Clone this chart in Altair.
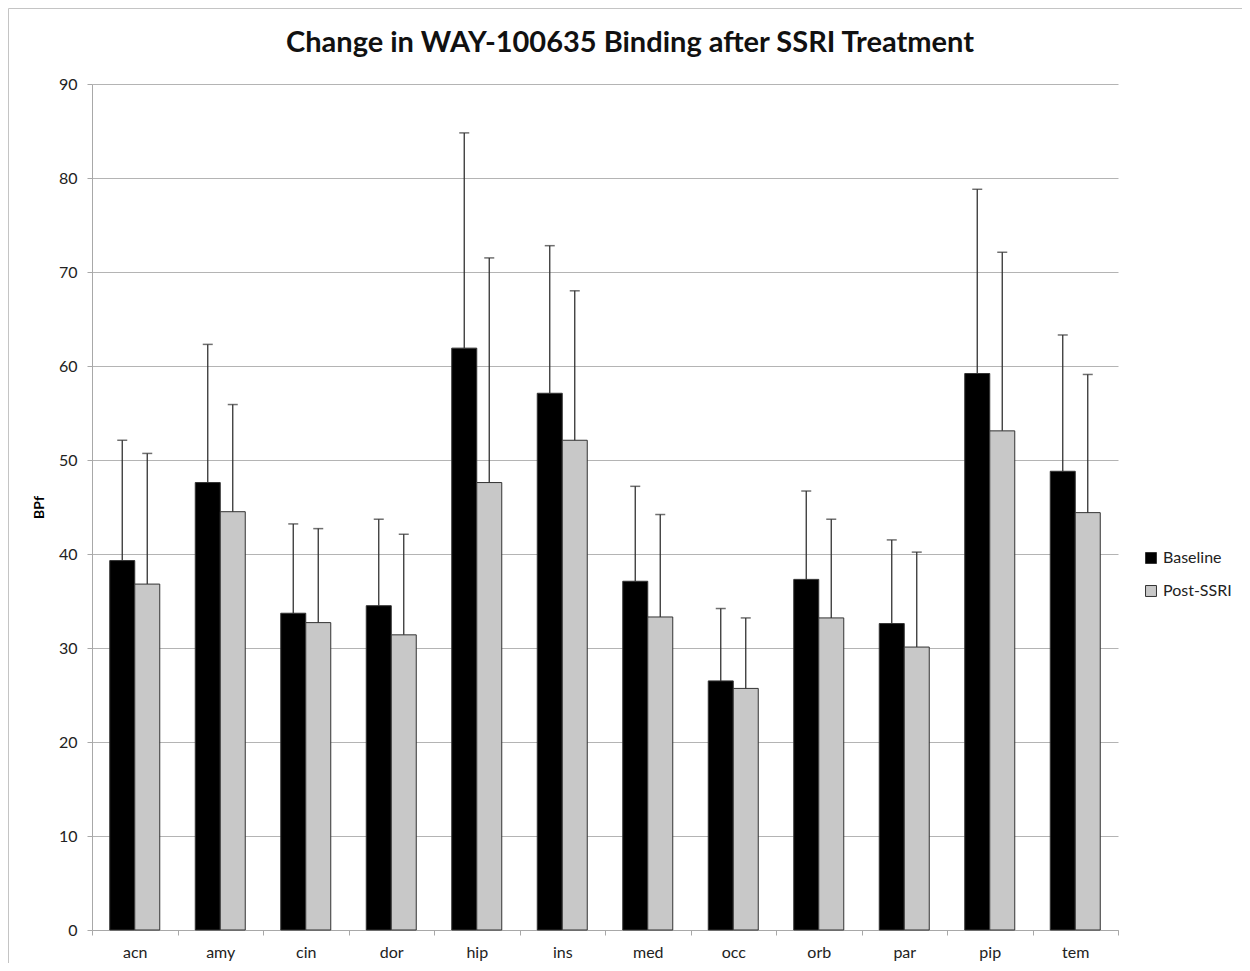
import altair as alt
import pandas as pd

regions = ["acn", "amy", "cin", "dor", "hip", "ins", "med", "occ", "orb", "par", "pip", "tem"]
groups = ["Baseline", "Post-SSRI"]
baseline = [39.3, 47.6, 33.7, 34.5, 61.9, 57.1, 37.1, 26.5, 37.3, 32.6, 59.2, 48.8]
baseline_sd = [12.8, 14.7, 9.5, 9.2, 22.9, 15.7, 10.1, 7.7, 9.4, 8.9, 19.6, 14.5]
post = [36.8, 44.5, 32.7, 31.4, 47.6, 52.1, 33.3, 25.7, 33.2, 30.1, 53.1, 44.4]
post_sd = [13.9, 11.4, 10.0, 10.7, 23.9, 15.9, 10.9, 7.5, 10.5, 10.1, 19.0, 14.7]
y_ticks = [0, 10, 20, 30, 40, 50, 60, 70, 80, 90]

rows = []
for i, r in enumerate(regions):
    rows.append({"region": r, "group": "Baseline", "value": baseline[i], "upper": baseline[i] + baseline_sd[i]})
    rows.append({"region": r, "group": "Post-SSRI", "value": post[i], "upper": post[i] + post_sd[i]})
df = pd.DataFrame(rows)

W, H = 1026, 846
PAD = {"left": 84, "top": 76, "right": 124, "bottom": 33}
FONT = "Lato"
AX = "#a8a8a8"

x_enc = alt.X(
    "region:N", sort=regions,
    scale=alt.Scale(paddingInner=0, paddingOuter=0),
    axis=alt.Axis(title=None, labelAngle=0, tickBand="extent", labelFont=FONT, labelFontSize=16,
                  labelColor="#222", labelPadding=9, tickSize=5, tickColor=AX, domainColor=AX,
                  grid=False),
)
xo_enc = alt.XOffset("group:N", sort=groups, scale=alt.Scale(paddingInner=0, paddingOuter=0.71))
y_axis = alt.Axis(values=y_ticks, title="BPf", titleFont=FONT, titleFontSize=14, titleFontWeight="bold",
                  titleColor="#000", titleX=-46, titleY=423, titleAngle=-90,
                  labelFont=FONT, labelFontSize=16, labelColor="#222", labelPadding=10, tickSize=5,
                  tickColor=AX, domainColor=AX, gridColor="#b4b4b4", gridWidth=1)
y_scale = alt.Scale(domain=[0, 90], nice=False)

color = alt.Color(
    "group:N", sort=groups,
    scale=alt.Scale(domain=groups, range=["#000000", "#c8c8c8"]),
    legend=alt.Legend(title=None, orient="none", legendX=1051, legendY=466, symbolType="square",
                      symbolSize=120, symbolStrokeColor="#333", symbolStrokeWidth=1,
                      labelFont=FONT, labelFontSize=16, labelColor="#222", rowPadding=17),
)

bars = alt.Chart(df).mark_bar(stroke="#333", strokeWidth=1).encode(
    x=x_enc, xOffset=xo_enc, y=alt.Y("value:Q", scale=y_scale, axis=y_axis), color=color
)
err = alt.Chart(df).mark_rule(color="#333", strokeWidth=1.3).encode(
    x=x_enc, xOffset=xo_enc, y=alt.Y("value:Q", scale=y_scale, axis=y_axis), y2="upper:Q"
)
caps = alt.Chart(df).mark_tick(color="#333", thickness=1.5, size=10).encode(
    x=x_enc, xOffset=xo_enc, y=alt.Y("upper:Q", scale=y_scale, axis=y_axis)
)

one = pd.DataFrame({"a": [0]})
frame_left = alt.Chart(one).mark_rule(color="#c4c4c4", strokeWidth=1).encode(
    x=alt.value(-83.5), y=alt.value(-75.5), y2=alt.value(H + PAD["bottom"])
)
frame_top = alt.Chart(one).mark_rule(color="#c4c4c4", strokeWidth=1).encode(
    x=alt.value(-83.5), x2=alt.value(W + PAD["right"]), y=alt.value(-75.5)
)

chart = alt.layer(bars, err, caps, frame_left, frame_top).properties(
    width=W, height=H,
    padding=PAD,
    autosize=alt.AutoSizeParams(type="none"),
    title=alt.TitleParams("Change in WAY-100635 Binding after SSRI Treatment", font=FONT, fontSize=29,
                          fontWeight="bold", color="#111", offset=-50, dx=25),
).configure_view(stroke=None)

chart.save("out.html", embed_options={"renderer": "svg", "actions": False})
